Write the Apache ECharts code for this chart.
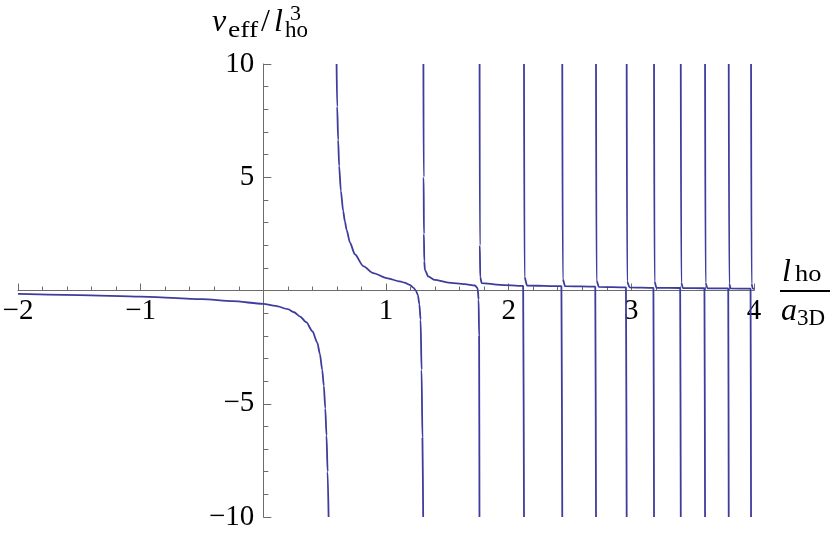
<!DOCTYPE html>
<html>
<head>
<meta charset="utf-8">
<style>
  html, body { margin: 0; padding: 0; background: #fff; }
  #chart { width: 830px; height: 534px; }
</style>
<script src="https://cdn.jsdelivr.net/npm/echarts@6/dist/echarts.min.js"></script>
</head>
<body>
<div id="chart"></div>
<script>
// axis ranges
const xRange = [-2, 4]
const yRange = [-10, 10]

// branches of v_eff / l_ho^3 against l_ho / a_3D, read point by point
const branch1 = [[-2, -0.15], [-1.5, -0.2], [-1, -0.27], [-0.5, -0.38], [-0.25, -0.47], [0, -0.59],
  [0.1, -0.68], [0.2, -0.82], [0.25, -0.96], [0.3, -1.15], [0.35, -1.4], [0.4, -1.8], [0.44, -2.3],
  [0.461, -2.8], [0.48, -3.5], [0.493, -4.2], [0.505, -5.2], [0.515, -6.4], [0.524, -8], [0.532, -10]]
const branch2 = [[0.597, 10], [0.602, 8.12], [0.61, 6.65], [0.618, 5.5], [0.632, 4.4], [0.651, 3.5],
  [0.665, 3.05], [0.679, 2.68], [0.706, 2.12], [0.746, 1.6], [0.814, 1.08], [0.896, 0.77],
  [1.005, 0.55], [1.113, 0.4], [1.15, 0.35], [1.195, 0.25], [1.225, 0.12], [1.245, -0.02],
  [1.26, -0.2], [1.272, -0.6], [1.282, -1.29], [1.29, -3.5], [1.297, -6.5], [1.303, -10]]
const branch3 = [[1.305, 10], [1.307, 5], [1.309, 2.5], [1.312, 1.3], [1.317, 0.91], [1.344, 0.62],
  [1.398, 0.47], [1.507, 0.35], [1.643, 0.28], [1.725, 0.22], [1.747, 0.1], [1.755, -0.4],
  [1.759, -2], [1.762, -10]]
const branch4 = [[1.763, 10], [1.765, 2.0], [1.768, 0.6], [1.78, 0.33], [1.93, 0.25], [2.118, 0.2], [2.125, -10]]
const branch5 = [[2.125, 10], [2.129, 0.6], [2.15, 0.22], [2.43, 0.19], [2.437, -10]]
const branch6 = [[2.437, 10], [2.441, 0.5], [2.46, 0.19], [2.706, 0.17], [2.712, -10]]
const branch7 = [[2.712, 10], [2.716, 0.45], [2.735, 0.16], [2.956, 0.14], [2.962, -10]]
const branch8 = [[2.962, 10], [2.966, 0.4], [2.985, 0.14], [3.18, 0.12], [3.185, -10]]
const branch9 = [[3.185, 10], [3.189, 0.4], [3.205, 0.12], [3.398, 0.11], [3.403, -10]]
const branch10 = [[3.403, 10], [3.407, 0.35], [3.42, 0.11], [3.596, 0.1], [3.601, -10]]
const branch11 = [[3.601, 10], [3.605, 0.35], [3.62, 0.1], [3.79, 0.09], [3.794, -10]]
const branch12 = [[3.794, 10], [3.798, 0.3], [3.81, 0.09], [3.972, 0.08], [3.976, -10]]
const branch13 = [[3.976, 10], [3.98, 0.3], [3.99, 0.08], [4, 0.07]]

const branches = [branch1, branch2, branch3, branch4, branch5, branch6, branch7,
  branch8, branch9, branch10, branch11, branch12, branch13]

const curveColor = '#3d3d9e'
const axisColor = '#6b6b6b'
const serif = '"Liberation Serif", "Times New Roman", serif'

// plot box in pixels; the axes cross at the origin
const box = { left: 18, right: 76, top: 64, bottom: 17 }
const plotW = 830 - box.left - box.right
const plotH = 534 - box.top - box.bottom
const zeroFromBottom = plotH * (0 - yRange[0]) / (yRange[1] - yRange[0])
const zeroFromLeft = plotW * (0 - xRange[0]) / (xRange[1] - xRange[0])

function tickLabel (v) {
  if (v === 0) return ''
  return v < 0 ? '\u2212' + Math.abs(v) : String(v)
}

function piece (text, x, baseline, size, italic, stretch) {
  return {
    type: 'text',
    x: x,
    y: baseline - size * 0.34,
    scaleX: stretch || 1,
    style: {
      text: text,
      fill: '#000',
      font: (italic ? 'italic ' : '') + size + 'px ' + serif,
      textAlign: 'left',
      textVerticalAlign: 'middle'
    }
  }
}

let chart = echarts.init(document.getElementById('chart'))
const options = {
  animation: false,
  grid: {
    left: box.left,
    right: box.right,
    top: box.top,
    bottom: box.bottom,
    containLabel: false,
    outerBoundsMode: 'none'
  },
  xAxis: {
    type: 'value',
    min: xRange[0],
    max: xRange[1],
    interval: 1,
    position: 'bottom',
    offset: -zeroFromBottom,
    axisLine: { onZero: false, lineStyle: { color: axisColor, width: 1 } },
    axisTick: { inside: true, length: 7, lineStyle: { color: axisColor } },
    minorTick: { show: true, splitNumber: 5, length: 4, lineStyle: { color: axisColor } },
    splitLine: { show: false },
    axisLabel: {
      formatter: tickLabel,
      color: '#000',
      fontFamily: serif,
      fontSize: 29,
      margin: 6,
      showMinLabel: true,
      showMaxLabel: true
    }
  },
  yAxis: {
    type: 'value',
    min: yRange[0],
    max: yRange[1],
    interval: 5,
    position: 'left',
    offset: -zeroFromLeft,
    axisLine: { show: true, onZero: false, lineStyle: { color: axisColor, width: 1 } },
    axisTick: { show: true, inside: true, length: 8, lineStyle: { color: axisColor } },
    minorTick: { show: true, splitNumber: 5, length: 5, lineStyle: { color: axisColor } },
    splitLine: { show: false },
    axisLabel: {
      formatter: tickLabel,
      color: '#000',
      fontFamily: serif,
      fontSize: 29,
      margin: 9,
      showMinLabel: true,
      showMaxLabel: true
    }
  },
  graphic: [
    // y axis title: v_eff / l_ho^3
    piece('v', 212, 33, 32, true),
    piece('eff', 228, 39, 23, false, 1.2),
    piece('/', 261, 33, 32, false),
    piece('l', 274, 33, 32, true),
    piece('ho', 285, 39, 23, false),
    piece('3', 290, 22, 22, false),
    // x axis title: l_ho / a_3D
    piece('l', 782, 283, 32, true),
    piece('ho', 795, 283, 24, false, 1.1),
    { type: 'rect', shape: { x: 780, y: 290, width: 50, height: 2 }, style: { fill: '#000' } },
    piece('a', 781, 322, 32, true),
    piece('3D', 797, 327, 23, false)
  ],
  series: branches.map(function (b) {
    return {
      type: 'line',
      data: b,
      showSymbol: false,
      clip: true,
      smooth: 0.25,
      smoothMonotone: 'x',
      lineStyle: { color: curveColor, width: 1.8 }
    }
  })
}
chart.setOption(options, true)
</script>
</body>
</html>
